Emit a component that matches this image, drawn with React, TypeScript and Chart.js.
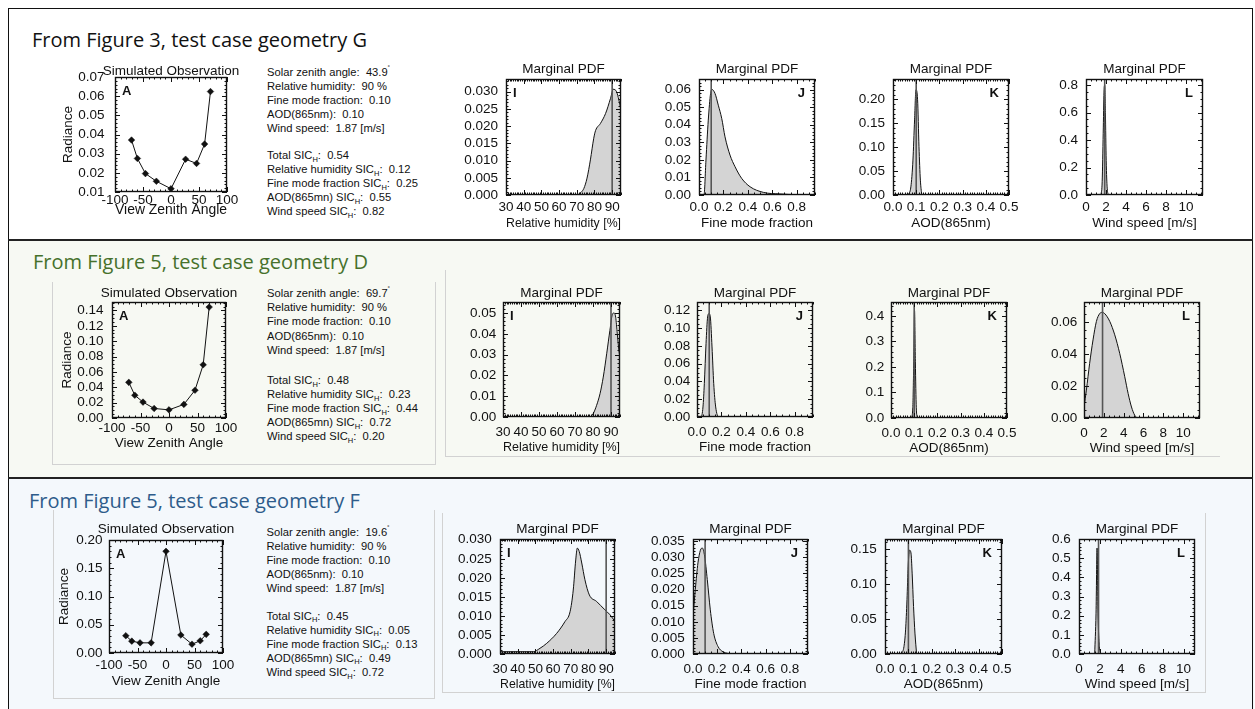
import React, { useEffect, useRef } from "react";
import { Chart, registerables } from "chart.js";

Chart.register(...registerables);

const FONT = "'Liberation Sans', Arial, Helvetica, sans-serif";
Chart.defaults.font.family = FONT;

// ---------------- data ----------------
const viewZenithAngle = [-70.5, -60, -45.6, -26.1, 0, 26.1, 45.6, 60, 70.5];
const radianceG = [0.0371, 0.0275, 0.0196, 0.0156, 0.0117, 0.0271, 0.0249, 0.035, 0.0624];
const radianceD = [0.0464, 0.0296, 0.0207, 0.0124, 0.0106, 0.0177, 0.0362, 0.0693, 0.1444];
const radianceF = [0.0306, 0.021, 0.018, 0.018, 0.18, 0.0318, 0.0156, 0.0216, 0.033];

const trueRH = 90;
const trueFMF = 0.1;
const trueAOD = 0.1;
const trueWind = 1.87;

// geometry G
const rhG = [30, 60, 70, 71, 72.5, 74, 75.8, 77.7, 79.6, 80.6, 83.4, 86.3, 89.1, 90.6, 92.5, 93.8, 95];
const rhPdfG = [0, 0, 0, 0.0002, 0.0008, 0.0019, 0.0049, 0.0102, 0.0165, 0.0187, 0.0208, 0.0237, 0.0281, 0.0307, 0.03, 0.0276, 0.0247];
const fmfG = [0, 0.041, 0.057, 0.076, 0.095, 0.107, 0.131, 0.158, 0.186, 0.213, 0.254, 0.295, 0.349, 0.418, 0.527, 0.663, 0.8, 0.95];
const fmfPdfG = [0, 0, 0.0199, 0.0426, 0.0578, 0.06, 0.0578, 0.0511, 0.0436, 0.0331, 0.0227, 0.0161, 0.0095, 0.0047, 0.0015, 0.0006, 0.0002, 0];
const aodG = [0.065, 0.077, 0.086, 0.093, 0.099, 0.106, 0.112, 0.118, 0.124];
const aodPdfG = [0, 0.017, 0.073, 0.157, 0.22, 0.199, 0.101, 0.031, 0];
const windG = [1.5, 1.62, 1.72, 1.8, 1.87, 1.94, 2.02, 2.12, 2.25];
const windPdfG = [0, 0.1, 0.45, 0.75, 0.8, 0.6, 0.25, 0.05, 0];

// geometry D
const rhD = [30, 77.9, 80.1, 82, 83.9, 85.7, 87.6, 89.4, 90.9, 91.7, 92.6, 93.5, 94.4, 95];
const rhPdfD = [0, 0, 0.0016, 0.0056, 0.0112, 0.0192, 0.0304, 0.0417, 0.0497, 0.05, 0.048, 0.04, 0.032, 0.0288];
const fmfD = [0, 0.033, 0.049, 0.06, 0.074, 0.087, 0.098, 0.109, 0.123, 0.137, 0.153, 0.178, 0.95];
const fmfPdfD = [0, 0, 0.0113, 0.0375, 0.0826, 0.1126, 0.1163, 0.1126, 0.0788, 0.0375, 0.0113, 0, 0];
const aodD = [0.088, 0.094, 0.098, 0.1015, 0.105, 0.109, 0.114];
const aodPdfD = [0, 0.04, 0.22, 0.42, 0.22, 0.04, 0];
const windD = [0, 0.24, 0.57, 0.91, 1.25, 1.58, 1.82, 2.09, 2.6, 3.1, 3.6, 4.11, 4.45, 4.79, 5.12, 5.46, 11.7];
const windPdfD = [0.0069, 0.0175, 0.0343, 0.049, 0.0606, 0.0655, 0.0663, 0.0655, 0.0606, 0.0522, 0.0406, 0.0259, 0.0154, 0.0069, 0.0017, 0, 0];

// geometry F
const rhF = [30, 48.8, 52.6, 56.4, 62, 66.7, 69.6, 71.4, 72.8, 73.7, 74.8, 76.2, 78, 80.5, 84.6, 89.3, 92.2, 95];
const rhPdfF = [0.0006, 0.0006, 0.0015, 0.0028, 0.0054, 0.0085, 0.0111, 0.0168, 0.0247, 0.0278, 0.0269, 0.0239, 0.0195, 0.0155, 0.0138, 0.0116, 0.0103, 0.0085];
const fmfF = [0, 0.019, 0.041, 0.061, 0.077, 0.096, 0.118, 0.143, 0.171, 0.207, 0.248, 0.33, 0.95];
const fmfPdfF = [0.0116, 0.02, 0.0283, 0.0322, 0.0329, 0.0304, 0.0231, 0.0137, 0.0064, 0.0023, 0.0007, 0.0001, 0];
const aodF = [0.071, 0.081, 0.088, 0.094, 0.099, 0.105, 0.111, 0.116, 0.122, 0.128, 0.135];
const aodPdfF = [0, 0.0106, 0.0346, 0.0779, 0.126, 0.149, 0.145, 0.116, 0.068, 0.03, 0];
const windF = [1.5, 1.63, 1.73, 1.82, 1.95, 2.08];
const windPdfF = [0, 0.213, 0.553, 0.213, 0.038, 0];

// text values
const rowTitles = ["From Figure 3, test case geometry G", "From Figure 5, test case geometry D", "From Figure 5, test case geometry F"];
const solarZenith = ["43.9", "69.7", "19.6"];
const relHumidity = ["90", "90", "90"];
const fineMode = ["0.10", "0.10", "0.10"];
const aod865 = ["0.10", "0.10", "0.10"];
const windSpeed = ["1.87", "1.87", "1.87"];
const totalSIC = ["0.54", "0.48", "0.45"];
const rhSIC = ["0.12", "0.23", "0.05"];
const fmfSIC = ["0.25", "0.44", "0.13"];
const aodSIC = ["0.55", "0.72", "0.49"];
const windSIC = ["0.82", "0.20", "0.72"];

// ---------------- layout ----------------
const PAD_L = 80, PAD_R = 18, PAD_T = 30, PAD_B = 44;
const TICK = 13.5, TITLE = 13.5;

type Axis = { min: number; max: number; step: number; minor: number; dec: number };
type Spec = {
  rect: number[];
  x: Axis; y: Axis;
  title: string; titleGap: number;
  letter: string; letterRight: boolean;
  xTitle: string; xTitleGap: number; xTitleSize: number;
  yTitle?: string; yTitleGap?: number;
  xLabelGap: number; yLabelPad: number;
  kind: "obs" | "pdf";
  xs: number[]; ys: number[];
  truth?: number;
};

const rowLayout = [
  { obsTitleGap: 6, obsXLabelGap: 7.6, obsXTitleGap: 18, obsYLabelPad: 10.5, obsYTitleGap: 46.7, obsXTitleSize: 15, pdfTitleGap: 10, pdfXLabelGap: 12.7, pdfXTitleGap: 28.3, pdfYLabelPad: 8 },
  { obsTitleGap: 8.7, obsXLabelGap: 10, obsXTitleGap: 25.6, obsYLabelPad: 8.4, obsYTitleGap: 45, obsXTitleSize: 13.5, pdfTitleGap: 9, pdfXLabelGap: 15, pdfXTitleGap: 30, pdfYLabelPad: 6.8 },
  { obsTitleGap: 10.7, obsXLabelGap: 12.3, obsXTitleGap: 28, obsYLabelPad: 6.6, obsYTitleGap: 44.3, obsXTitleSize: 13.5, pdfTitleGap: 10, pdfXLabelGap: 15.3, pdfXTitleGap: 30, pdfYLabelPad: 8.3 },
];

const vzaAxis: Axis = { min: -100, max: 100, step: 50, minor: 5, dec: 0 };
const rhAxis: Axis = { min: 30, max: 95, step: 10, minor: 10, dec: 0 };
const fmfAxis: Axis = { min: 0, max: 0.95, step: 0.2, minor: 4, dec: 1 };
const aodAxis: Axis = { min: 0, max: 0.5, step: 0.1, minor: 10, dec: 1 };
const windAxis = (max: number): Axis => ({ min: 0, max, step: 2, minor: 4, dec: 0 });

function obsSpec(row: number, rect: number[], ys: number[], y: Axis): Spec {
  const L = rowLayout[row];
  return {
    rect, x: vzaAxis, y, title: "Simulated Observation", titleGap: L.obsTitleGap,
    letter: "A", letterRight: false, xTitle: "View Zenith Angle", xTitleGap: L.obsXTitleGap,
    xTitleSize: L.obsXTitleSize, yTitle: "Radiance", yTitleGap: L.obsYTitleGap,
    xLabelGap: L.obsXLabelGap, yLabelPad: L.obsYLabelPad, kind: "obs", xs: viewZenithAngle, ys,
  };
}

function pdfSpec(row: number, rect: number[], x: Axis, letter: string, xTitle: string, xs: number[], ys: number[], y: Axis, truth: number): Spec {
  const L = rowLayout[row];
  return {
    rect, x, y, title: "Marginal PDF", titleGap: L.pdfTitleGap, letter, letterRight: letter !== "I",
    xTitle, xTitleGap: L.pdfXTitleGap, xTitleSize: TITLE, xLabelGap: L.pdfXLabelGap,
    yLabelPad: L.pdfYLabelPad, kind: "pdf", xs, ys, truth,
  };
}

const specs: Spec[] = [
  obsSpec(0, [115, 77, 112, 115], radianceG, { min: 0.01, max: 0.07, step: 0.01, minor: 5, dec: 2 }),
  pdfSpec(0, [506, 79, 115, 116], rhAxis, "I", "Relative humidity [%]", rhG, rhPdfG, { min: 0, max: 0.0337, step: 0.005, minor: 5, dec: 3 }, trueRH),
  pdfSpec(0, [699, 79, 116, 116], fmfAxis, "J", "Fine mode fraction", fmfG, fmfPdfG, { min: 0, max: 0.066, step: 0.01, minor: 5, dec: 2 }, trueFMF),
  pdfSpec(0, [893, 79, 116, 116], aodAxis, "K", "AOD(865nm)", aodG, aodPdfG, { min: 0, max: 0.2425, step: 0.05, minor: 5, dec: 2 }, trueAOD),
  pdfSpec(0, [1086, 79, 117, 116], windAxis(11.7), "L", "Wind speed [m/s]", windG, windPdfG, { min: 0, max: 0.845, step: 0.2, minor: 4, dec: 1 }, trueWind),

  obsSpec(1, [112, 302, 114, 116], radianceD, { min: 0, max: 0.151, step: 0.02, minor: 4, dec: 2 }),
  pdfSpec(1, [503, 302, 117, 115], rhAxis, "I", "Relative humidity [%]", rhD, rhPdfD, { min: 0, max: 0.0553, step: 0.01, minor: 5, dec: 2 }, trueRH),
  pdfSpec(1, [697, 302, 116, 115], fmfAxis, "J", "Fine mode fraction", fmfD, fmfPdfD, { min: 0, max: 0.1294, step: 0.02, minor: 4, dec: 2 }, trueFMF),
  pdfSpec(1, [891, 302, 116, 116], aodAxis, "K", "AOD(865nm)", aodD, aodPdfD, { min: 0, max: 0.454, step: 0.1, minor: 5, dec: 1 }, trueAOD),
  pdfSpec(1, [1084, 302, 116, 116], windAxis(11.7), "L", "Wind speed [m/s]", windD, windPdfD, { min: 0, max: 0.0728, step: 0.02, minor: 4, dec: 2 }, trueWind),

  obsSpec(2, [109, 540, 114, 113], radianceF, { min: 0, max: 0.2, step: 0.05, minor: 5, dec: 2 }),
  pdfSpec(2, [500, 539, 115, 115], rhAxis, "I", "Relative humidity [%]", rhF, rhPdfF, { min: 0, max: 0.0302, step: 0.005, minor: 5, dec: 3 }, trueRH),
  pdfSpec(2, [693, 539, 115, 115], fmfAxis, "J", "Fine mode fraction", fmfF, fmfPdfF, { min: 0, max: 0.0357, step: 0.005, minor: 5, dec: 3 }, trueFMF),
  pdfSpec(2, [885, 539, 117, 115], aodAxis, "K", "AOD(865nm)", aodF, aodPdfF, { min: 0, max: 0.165, step: 0.05, minor: 5, dec: 2 }, trueAOD),
  pdfSpec(2, [1079, 539, 116, 115], windAxis(11.1), "L", "Wind speed [m/s]", windF, windPdfF, { min: 0, max: 0.6, step: 0.1, minor: 5, dec: 1 }, trueWind),
];

// ---------------- chart building ----------------
function majorTicks(ax: Axis) {
  const out: { value: number }[] = [];
  const k0 = Math.ceil(ax.min / ax.step - 1e-6);
  const k1 = Math.floor(ax.max / ax.step + 1e-6);
  for (let k = k0; k <= k1; k++) out.push({ value: +(k * ax.step).toFixed(10) });
  return out;
}

function decorPlugin(s: Spec) {
  return {
    id: "idlDecor",
    afterDatasetsDraw(chart: any) {
      const { ctx, chartArea: a } = chart;
      const sx = chart.scales.x, sy = chart.scales.y;
      ctx.save();
      ctx.strokeStyle = "#111";
      ctx.lineWidth = 1;
      const drawTicks = (ax: Axis, scale: any, horiz: boolean) => {
        const m = ax.step / ax.minor;
        const k0 = Math.ceil(ax.min / m - 1e-6), k1 = Math.floor(ax.max / m + 1e-6);
        ctx.beginPath();
        for (let k = k0; k <= k1; k++) {
          const major = Math.abs(k) % ax.minor === 0;
          const len = major ? 5 : 2.5;
          const p = Math.round(scale.getPixelForValue(k * m)) + 0.5;
          if (horiz) {
            ctx.moveTo(p, a.bottom); ctx.lineTo(p, a.bottom - len);
            ctx.moveTo(p, a.top); ctx.lineTo(p, a.top + len);
          } else {
            ctx.moveTo(a.left, p); ctx.lineTo(a.left + len, p);
            ctx.moveTo(a.right, p); ctx.lineTo(a.right - len, p);
          }
        }
        ctx.stroke();
      };
      drawTicks(s.x, sx, true);
      drawTicks(s.y, sy, false);
      ctx.lineWidth = 1.4;
      ctx.strokeRect(a.left + 0.5, a.top + 0.5, a.right - a.left - 1, a.bottom - a.top - 1);
      ctx.fillStyle = "#111";
      ctx.font = `${TITLE}px ${FONT}`;
      ctx.textAlign = "center";
      ctx.textBaseline = "middle";
      ctx.fillText(s.title, (a.left + a.right) / 2, a.top - s.titleGap);
      ctx.font = `bold 13px ${FONT}`;
      if (s.letterRight) {
        ctx.textAlign = "right";
        ctx.fillText(s.letter, a.right - 10, a.top + 14);
      } else {
        ctx.textAlign = "left";
        ctx.fillText(s.letter, a.left + 7, a.top + 14);
      }
      ctx.restore();
    },
  };
}

function buildConfig(s: Spec): any {
  const datasets: any[] = [];
  if (s.truth !== undefined) {
    datasets.push({
      data: [{ x: s.truth, y: s.y.min }, { x: s.truth, y: s.y.max }],
      borderColor: "#555", borderWidth: 1.6, pointRadius: 0, fill: false, tension: 0,
    });
  }
  const pts = s.xs.map((x, i) => ({ x, y: s.ys[i] }));
  if (s.kind === "pdf") {
    datasets.push({
      data: pts, borderColor: "#111", borderWidth: 1, backgroundColor: "#d4d4d4",
      fill: "origin", pointRadius: 0, cubicInterpolationMode: "monotone",
    });
  } else {
    datasets.push({
      data: pts, borderColor: "#111", borderWidth: 1, fill: false, tension: 0,
      pointStyle: "rectRot", pointRadius: 3.3, pointBackgroundColor: "#111",
      pointBorderColor: "#111", pointBorderWidth: 0.5,
    });
  }
  const xTitlePad = PAD_B - s.xTitleGap - 0.6 * s.xTitleSize;
  const yTitlePad = PAD_L - (s.yTitleGap || 0) - 0.6 * TITLE;
  return {
    type: "line",
    data: { datasets },
    options: {
      animation: false, responsive: false, maintainAspectRatio: false, devicePixelRatio: 1, events: [],
      layout: { padding: { left: 0, top: PAD_T, right: PAD_R, bottom: 0 } },
      plugins: { legend: { display: false }, tooltip: { enabled: false }, title: { display: false } },
      scales: {
        x: {
          type: "linear", min: s.x.min, max: s.x.max, bounds: "data",
          grid: { display: false, drawTicks: false }, border: { display: false },
          afterFit: (sc: any) => { sc.height = PAD_B; },
          afterBuildTicks: (sc: any) => { sc.ticks = majorTicks(s.x); },
          ticks: {
            autoSkip: false, maxRotation: 0, minRotation: 0, color: "#111",
            padding: Math.max(0, s.xLabelGap - 0.6 * TICK), font: { family: FONT, size: TICK },
            callback: (v: any) => Number(v).toFixed(s.x.dec),
          },
          title: { display: true, text: s.xTitle, color: "#111", font: { family: FONT, size: s.xTitleSize }, padding: { top: 0, bottom: xTitlePad } },
        },
        y: {
          type: "linear", min: s.y.min, max: s.y.max, bounds: "data",
          grid: { display: false, drawTicks: false }, border: { display: false },
          afterFit: (sc: any) => { sc.width = PAD_L; },
          afterBuildTicks: (sc: any) => { sc.ticks = majorTicks(s.y); },
          ticks: {
            autoSkip: false, color: "#111", padding: s.yLabelPad, font: { family: FONT, size: TICK },
            callback: (v: any) => Number(v).toFixed(s.y.dec),
          },
          title: s.yTitle
            ? { display: true, text: s.yTitle, color: "#111", font: { family: FONT, size: TITLE }, padding: { top: yTitlePad, bottom: 0 } }
            : { display: false },
        },
      },
    },
    plugins: [decorPlugin(s)],
  };
}

function Plot({ spec }: { spec: Spec }) {
  const ref = useRef<HTMLCanvasElement>(null);
  useEffect(() => {
    const chart = new Chart(ref.current as HTMLCanvasElement, buildConfig(spec));
    return () => chart.destroy();
  }, []);
  const [l, t, w, h] = spec.rect;
  const W = w + PAD_L + PAD_R, H = h + PAD_T + PAD_B;
  return (
    <canvas ref={ref} width={W} height={H}
      style={{ position: "absolute", left: l - PAD_L, top: t - PAD_T, width: W, height: H }} />
  );
}

const Sub = () => (
  <span style={{ fontSize: 7.5, position: "relative", top: 2.5 }}>H</span>
);

function Info({ i, left, top1, top2 }: { i: number; left: number; top1: number; top2: number }) {
  const ln: React.CSSProperties = { height: 14.1, lineHeight: "14.1px", whiteSpace: "pre" };
  const box: React.CSSProperties = { position: "absolute", left, fontSize: 11.2, color: "#111", fontFamily: FONT };
  return (
    <>
      <div style={{ ...box, top: top1 }}>
        <div style={ln}>{"Solar zenith angle:  " + solarZenith[i]}<span style={{ fontSize: 7, position: "relative", top: -5 }}>˚</span></div>
        <div style={ln}>{"Relative humidity:  " + relHumidity[i] + " %"}</div>
        <div style={ln}>{"Fine mode fraction:  " + fineMode[i]}</div>
        <div style={ln}>{"AOD(865nm):  " + aod865[i]}</div>
        <div style={ln}>{"Wind speed:  " + windSpeed[i] + " [m/s]"}</div>
      </div>
      <div style={{ ...box, top: top2 }}>
        <div style={ln}>{"Total SIC"}<Sub />{":  " + totalSIC[i]}</div>
        <div style={ln}>{"Relative humidity SIC"}<Sub />{":  " + rhSIC[i]}</div>
        <div style={ln}>{"Fine mode fraction SIC"}<Sub />{":  " + fmfSIC[i]}</div>
        <div style={ln}>{"AOD(865mn) SIC"}<Sub />{":  " + aodSIC[i]}</div>
        <div style={ln}>{"Wind speed SIC"}<Sub />{":  " + windSIC[i]}</div>
      </div>
    </>
  );
}

const titleLayout = [
  { left: 32, top: 30, color: "#111" },
  { left: 33, top: 252, color: "#46712b" },
  { left: 29, top: 491, color: "#2e5c8b" },
];

const infoLayout = [
  { left: 267, top1: 64.7, top2: 148 },
  { left: 267, top1: 286.3, top2: 373 },
  { left: 266.5, top1: 524.7, top2: 608.7 },
];

const frameBoxes: { l: number; t: number; w: number; h: number; sides: string }[] = [
  { l: 52, t: 282, w: 384, h: 183, sides: "lrb" },
  { l: 445, t: 270, w: 775, h: 187, sides: "lb" },
  { l: 53, t: 510, w: 382, h: 189, sides: "lrb" },
  { l: 442, t: 513, w: 764, h: 180, sides: "lrb" },
];

export default function App() {
  return (
    <div style={{ position: "absolute", left: 0, top: 0, width: 1255, height: 709, overflow: "hidden", background: "#fff", fontFamily: FONT }}>
      <div style={{ position: "absolute", left: 8, top: 240, width: 1246, height: 238, background: "#f7f9f3" }} />
      <div style={{ position: "absolute", left: 8, top: 478, width: 1246, height: 231, background: "#f4f8fc" }} />
      {frameBoxes.map((b, k) => (
        <div key={k} style={{
          position: "absolute", left: b.l, top: b.t, width: b.w, height: b.h, boxSizing: "border-box",
          borderLeft: b.sides.includes("l") ? "1px solid #d2d2d2" : "none",
          borderRight: b.sides.includes("r") ? "1px solid #d2d2d2" : "none",
          borderBottom: b.sides.includes("b") ? "1px solid #d2d2d2" : "none",
        }} />
      ))}
      <div style={{ position: "absolute", left: 8, top: 8, width: 1245, height: 720, boxSizing: "border-box", border: "1.5px solid #111" }} />
      <div style={{ position: "absolute", left: 8, top: 239, width: 1245, height: 1.5, background: "#222" }} />
      <div style={{ position: "absolute", left: 8, top: 477, width: 1245, height: 1.5, background: "#222" }} />
      {rowTitles.map((t, k) => (
        <div key={k} style={{
          position: "absolute", left: titleLayout[k].left, top: titleLayout[k].top, fontFamily: "'Open Sans', sans-serif",
          fontSize: 20, lineHeight: "20px", whiteSpace: "pre", color: titleLayout[k].color,
        }}>{t}</div>
      ))}
      {infoLayout.map((p, k) => (
        <Info key={k} i={k} left={p.left} top1={p.top1} top2={p.top2} />
      ))}
      {specs.map((s, k) => (
        <Plot key={k} spec={s} />
      ))}
    </div>
  );
}
